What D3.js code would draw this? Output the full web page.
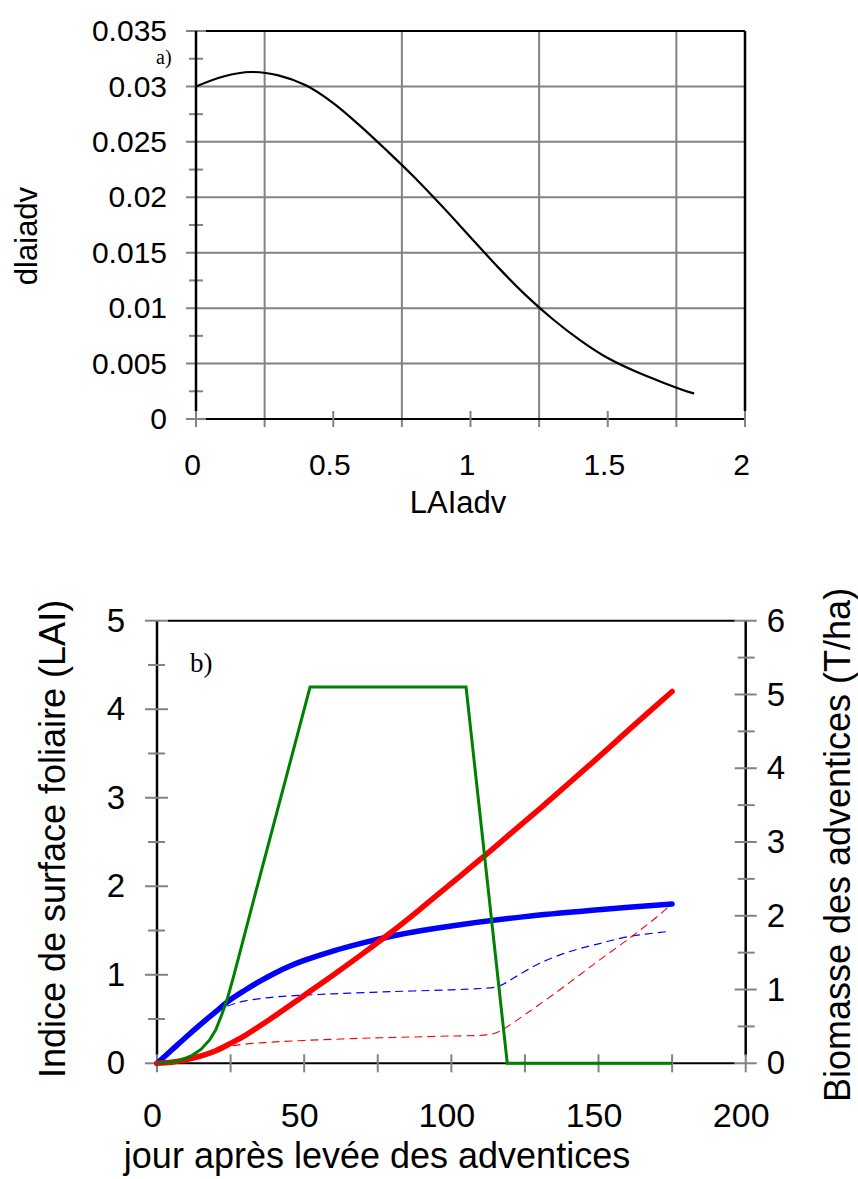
<!DOCTYPE html>
<html>
<head>
<meta charset="utf-8">
<script src="https://cdn.jsdelivr.net/npm/d3@7"></script>
<style>
  body { margin: 0; background: #fff; }
  svg { display: block; }
</style>
</head>
<body>
<svg id="fig" width="858" height="1179"></svg>
<script>
// ---------- Panel a: dlaiadv as a function of LAIadv ----------
const laiAdv  = [0, 0.1, 0.2, 0.3, 0.4, 0.5, 0.6, 0.7, 0.8, 0.9, 1.0, 1.1, 1.2, 1.3, 1.4, 1.5, 1.6, 1.7, 1.8, 1.815];
const dlaiAdv = [0.0300, 0.0309, 0.0313, 0.0310, 0.0301, 0.0285, 0.0264, 0.0241, 0.0217, 0.0191, 0.0164,
                 0.0137, 0.0112, 0.0090, 0.0071, 0.0055, 0.0043, 0.0033, 0.0024, 0.0023];
const aYTicks = [0, 0.005, 0.01, 0.015, 0.02, 0.025, 0.03, 0.035];
const aYMinor = [0.0025, 0.0075, 0.0125, 0.0175, 0.0225, 0.0275, 0.0325];
const aXTicks = [0, 0.5, 1, 1.5, 2];
const aXGrid  = [0.25, 0.75, 1.25, 1.75];

// ---------- Panel b: time courses after weed emergence ----------
const bXTicks = [0, 25, 50, 75, 100, 125, 150, 175, 200];
const bXLabels = [0, 50, 100, 150, 200];
const bLeftTicks = [0, 0.5, 1, 1.5, 2, 2.5, 3, 3.5, 4, 4.5, 5];
const bLeftLabels = [0, 1, 2, 3, 4, 5];
const bRightTicks = [0, 0.5, 1, 1.5, 2, 2.5, 3, 3.5, 4, 4.5, 5, 5.5, 6];
const bRightLabels = [0, 1, 2, 3, 4, 5, 6];

// green line (left axis)
const greenDays = [0, 4, 8, 12, 15, 18, 20, 22, 24, 26, 28, 32, 52, 105, 119, 175];
const greenVals = [0, 0.008, 0.035, 0.09, 0.16, 0.27, 0.38, 0.55, 0.74, 0.98, 1.23, 1.74, 4.25, 4.25, 0, 0];

// weed LAI, thick blue (left axis)
const laiDays = [0, 5, 10, 15, 20, 25, 30, 35, 40, 45, 50, 60, 70, 80, 90, 100, 125, 150, 175];
const laiVals = [0, 0.15, 0.30, 0.445, 0.585, 0.72, 0.828, 0.928, 1.018, 1.096, 1.162, 1.271, 1.361, 1.438, 1.50, 1.552, 1.657, 1.734, 1.80];

// weed biomass, thick red (right axis)
const bioDays = [0, 5, 10, 15, 20, 25, 30, 40, 50, 60, 70, 80, 90, 100, 110, 120, 130, 140, 150, 160, 175];
const bioVals = [0, 0.015, 0.05, 0.10, 0.17, 0.27, 0.38, 0.64, 0.92, 1.20, 1.49, 1.79, 2.11, 2.44, 2.77, 3.11, 3.45, 3.80, 4.15, 4.51, 5.04];

// LAI, dashed blue (left axis)
const laiDashDays = [0, 5, 10, 15, 20, 23, 26, 30, 35, 40, 50, 60, 80, 100, 110, 115, 118, 121, 125, 130, 140, 150, 160, 174];
const laiDashVals = [0, 0.15, 0.30, 0.44, 0.57, 0.63, 0.67, 0.705, 0.73, 0.75, 0.77, 0.785, 0.81, 0.83, 0.845, 0.86, 0.90, 0.96, 1.04, 1.13, 1.26, 1.35, 1.43, 1.49];

// biomass, dashed red (right axis)
const bioDashDays = [0, 5, 10, 15, 20, 23, 26, 30, 40, 50, 60, 70, 80, 90, 100, 108, 112, 115, 118, 121, 125, 130, 140, 150, 160, 170, 174.6];
const bioDashVals = [0, 0.015, 0.05, 0.10, 0.17, 0.21, 0.24, 0.26, 0.29, 0.31, 0.325, 0.34, 0.35, 0.36, 0.37, 0.375, 0.385, 0.41, 0.47, 0.55, 0.66, 0.80, 1.09, 1.39, 1.68, 1.99, 2.15];

const SANS = "'Liberation Sans', Arial, Helvetica, sans-serif";
const SERIF = "'Liberation Serif', 'Times New Roman', serif";
const GRAY = "#828282";

const svg = d3.select("#fig");
const zip = (xs, ys) => xs.map((x, i) => [x, ys[i]]);
const fmt = d3.format("~g");

function styleAxis(g, size) {
  g.select(".domain").remove();
  g.attr("font-family", SANS).attr("font-size", size);
  g.selectAll("text").attr("fill", "#000");
}

// ================= Panel a =================
{
  const x = d3.scaleLinear([0, 2], [196, 745]);
  const y = d3.scaleLinear([0, 0.035], [419, 31]);
  const g = svg.append("g");

  // horizontal grid lines (they also serve as major ticks)
  g.selectAll("line.hgrid").data(aYTicks).join("line")
    .attr("x1", x(0) - 10).attr("x2", x(2))
    .attr("y1", d => y(d)).attr("y2", d => y(d))
    .attr("stroke", GRAY).attr("stroke-width", 2);
  // vertical grid lines
  g.selectAll("line.vgrid").data(aXGrid).join("line")
    .attr("x1", d => x(d)).attr("x2", d => x(d))
    .attr("y1", y(0.035)).attr("y2", y(0) + 8)
    .attr("stroke", GRAY).attr("stroke-width", 2);
  // minor y ticks
  g.selectAll("line.ymin").data(aYMinor).join("line")
    .attr("x1", x(0) - 7).attr("x2", x(0) + 7)
    .attr("y1", d => y(d)).attr("y2", d => y(d))
    .attr("stroke", GRAY).attr("stroke-width", 2);

  // frame
  g.append("line").attr("x1", x(0) + 10).attr("x2", x(2)).attr("y1", y(0.035)).attr("y2", y(0.035))
    .attr("stroke", "#000").attr("stroke-width", 2);
  g.append("line").attr("x1", x(0) + 10).attr("x2", x(2)).attr("y1", y(0)).attr("y2", y(0))
    .attr("stroke", "#000").attr("stroke-width", 2);
  g.append("line").attr("x1", x(0)).attr("x2", x(0)).attr("y1", y(0.035)).attr("y2", y(0) - 8)
    .attr("stroke", "#000").attr("stroke-width", 2.5);
  g.append("line").attr("x1", x(2)).attr("x2", x(2)).attr("y1", y(0.035)).attr("y2", y(0) - 8)
    .attr("stroke", "#000").attr("stroke-width", 2.5);

  // x ticks crossing the axis
  g.selectAll("line.xt").data(aXTicks).join("line")
    .attr("x1", d => x(d)).attr("x2", d => x(d))
    .attr("y1", y(0) - 8).attr("y2", y(0) + 8)
    .attr("stroke", GRAY).attr("stroke-width", 2);

  // curve
  g.append("path")
    .datum(zip(laiAdv, dlaiAdv))
    .attr("fill", "none").attr("stroke", "#000").attr("stroke-width", 2.2)
    .attr("d", d3.line().x(d => x(d[0])).y(d => y(d[1])).curve(d3.curveCatmullRom));

  // axis labels
  const ya = g.append("g").attr("transform", `translate(${x(0)},0)`)
    .call(d3.axisLeft(y).tickValues(aYTicks).tickSize(0).tickPadding(29).tickFormat(fmt));
  styleAxis(ya, 30);
  const xa = g.append("g").attr("transform", `translate(0,${y(0)})`)
    .call(d3.axisBottom(x).tickValues(aXTicks).tickSize(0).tickPadding(34.5).tickFormat(fmt));
  styleAxis(xa, 30);
  xa.selectAll("text").attr("x", -4);

  g.append("text").attr("x", 458).attr("y", 513).attr("text-anchor", "middle")
    .attr("font-family", SANS).attr("font-size", 31).text("LAIadv");
  g.append("text").attr("transform", "translate(37,236) rotate(-90)").attr("text-anchor", "middle")
    .attr("font-family", SANS).attr("font-size", 31).text("dlaiadv");
  g.append("text").attr("x", 156).attr("y", 64)
    .attr("font-family", SERIF).attr("font-size", 20).text("a)");
}

// ================= Panel b =================
{
  const x = d3.scaleLinear([0, 200], [157, 745.7]);
  const yL = d3.scaleLinear([0, 5], [1063.3, 620.7]);
  const yR = d3.scaleLinear([0, 6], [1063.3, 620.7]);
  const g = svg.append("g");

  // frame
  g.append("line").attr("x1", x(0) + 11).attr("x2", x(200) - 11).attr("y1", yL(5)).attr("y2", yL(5))
    .attr("stroke", "#000").attr("stroke-width", 2);
  g.append("line").attr("x1", x(0) + 11).attr("x2", x(200) - 11).attr("y1", yL(0)).attr("y2", yL(0))
    .attr("stroke", "#000").attr("stroke-width", 2);
  g.append("line").attr("x1", x(0)).attr("x2", x(0)).attr("y1", yL(5)).attr("y2", yL(0) - 8)
    .attr("stroke", "#000").attr("stroke-width", 2.5);
  g.append("line").attr("x1", x(200)).attr("x2", x(200)).attr("y1", yL(5)).attr("y2", yL(0) - 8)
    .attr("stroke", "#000").attr("stroke-width", 2.5);

  // ticks
  g.selectAll("line.lt").data(bLeftTicks).join("line")
    .attr("x1", d => x(0) - (Number.isInteger(d) ? 12 : 9))
    .attr("x2", d => x(0) + (Number.isInteger(d) ? 11 : 8))
    .attr("y1", d => yL(d)).attr("y2", d => yL(d))
    .attr("stroke", GRAY).attr("stroke-width", 2);
  g.selectAll("line.rt").data(bRightTicks).join("line")
    .attr("x1", d => x(200) - (Number.isInteger(d) ? 11 : 8))
    .attr("x2", d => x(200) + (Number.isInteger(d) ? 11 : 9))
    .attr("y1", d => yR(d)).attr("y2", d => yR(d))
    .attr("stroke", GRAY).attr("stroke-width", 2);
  g.selectAll("line.bt").data(bXTicks).join("line")
    .attr("x1", d => x(d)).attr("x2", d => x(d))
    .attr("y1", yL(0) - 9).attr("y2", yL(0) + 9)
    .attr("stroke", GRAY).attr("stroke-width", 2);

  const line = (ys) => d3.line().x(d => x(d[0])).y(d => ys(d[1])).curve(d3.curveCatmullRom);

  // dashed series
  g.append("path").datum(zip(laiDashDays, laiDashVals))
    .attr("fill", "none").attr("stroke", "#0000ff").attr("stroke-width", 1.2)
    .attr("stroke-dasharray", "8,5").attr("d", line(yL));
  g.append("path").datum(zip(bioDashDays, bioDashVals))
    .attr("fill", "none").attr("stroke", "#ff0000").attr("stroke-width", 1.1)
    .attr("stroke-dasharray", "8,5").attr("d", line(yR));

  // thick series
  g.append("path").datum(zip(laiDays, laiVals))
    .attr("fill", "none").attr("stroke", "#0000ff").attr("stroke-width", 5.5)
    .attr("stroke-linecap", "round").attr("stroke-linejoin", "round").attr("d", line(yL));
  g.append("path").datum(zip(bioDays, bioVals))
    .attr("fill", "none").attr("stroke", "#ff0000").attr("stroke-width", 5.5)
    .attr("stroke-linecap", "round").attr("stroke-linejoin", "round").attr("d", line(yR));

  // green trapezoid
  g.append("path").datum(zip(greenDays, greenVals))
    .attr("fill", "none").attr("stroke", "#008000").attr("stroke-width", 3)
    .attr("d", d3.line().x(d => x(d[0])).y(d => yL(d[1])));

  // tick labels
  const la = g.append("g").attr("transform", `translate(${x(0)},0)`)
    .call(d3.axisLeft(yL).tickValues(bLeftLabels).tickSize(0).tickPadding(32).tickFormat(fmt));
  styleAxis(la, 33);
  const ra = g.append("g").attr("transform", `translate(${x(200)},0)`)
    .call(d3.axisRight(yR).tickValues(bRightLabels).tickSize(0).tickPadding(21).tickFormat(fmt));
  styleAxis(ra, 33);
  const ba = g.append("g").attr("transform", `translate(0,${yL(0)})`)
    .call(d3.axisBottom(x).tickValues(bXLabels).tickSize(0).tickPadding(39.5).tickFormat(fmt));
  styleAxis(ba, 34);
  ba.selectAll("text").attr("x", -5);

  // titles
  g.append("text").attr("x", 377).attr("y", 1168).attr("text-anchor", "middle")
    .attr("font-family", SANS).attr("font-size", 36).text("jour après levée des adventices");
  g.append("text").attr("transform", "translate(65,839) rotate(-90)").attr("text-anchor", "middle")
    .attr("font-family", SANS).attr("font-size", 36).text("Indice de surface foliaire (LAI)");
  g.append("text").attr("transform", "translate(850,845) rotate(-90)").attr("text-anchor", "middle")
    .attr("font-family", SANS).attr("font-size", 36).text("Biomasse des adventices (T/ha)");
  g.append("text").attr("x", 190).attr("y", 672)
    .attr("font-family", SERIF).attr("font-size", 27).text("b)");
}
</script>
</body>
</html>
